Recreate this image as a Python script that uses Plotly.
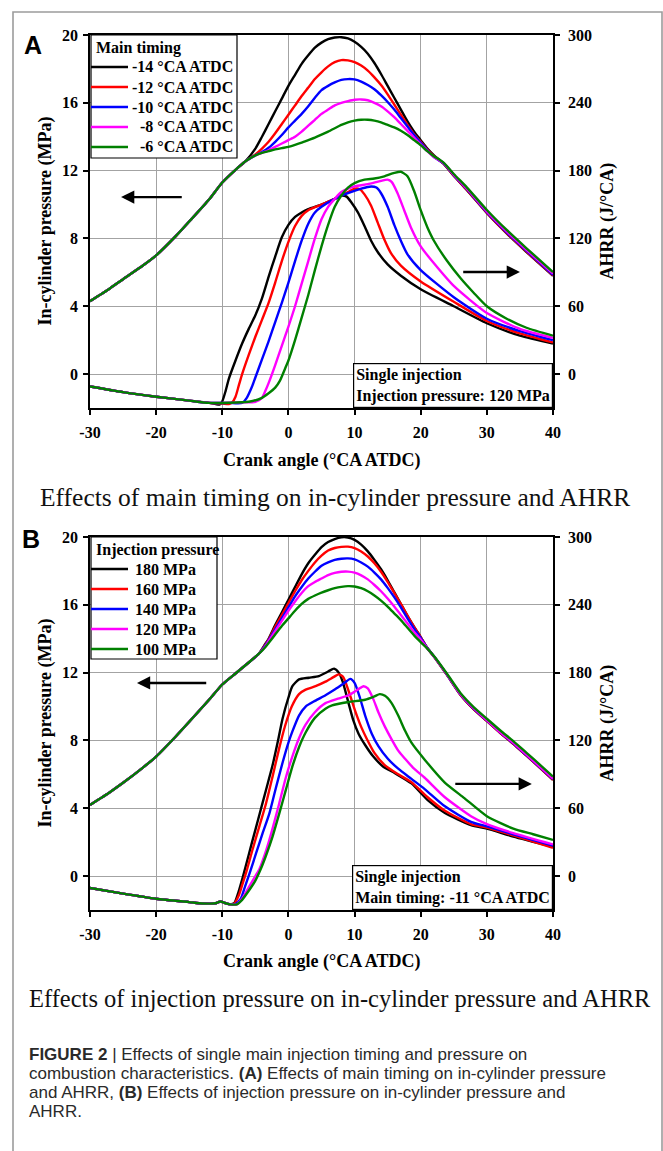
import plotly.graph_objects as go

# ---------------------------------------------------------------- figure size
W, H = 663, 1151
SERIF = "Liberation Serif, Times New Roman, serif"
SANS = "Liberation Sans, Arial, sans-serif"

# ---------------------------------------------------------------- axes / labels
crank_ticks = [-30, -20, -10, 0, 10, 20, 30, 40]
crank_tick_text = ["-30", "-20", "-10", "0", "10", "20", "30", "40"]
press_ticks = [0, 4, 8, 12, 16, 20]
ahrr_ticks = [0, 60, 120, 180, 240, 300]
press_range = [-2, 20]
ahrr_range = [-30, 300]
crank_range = [-30, 40]

line_colors = ["#000000", "#ff0000", "#0000ff", "#ff00ff", "#008000"]
timing_labels = ["-14 °CA ATDC", "-12 °CA ATDC", "-10 °CA ATDC", "-8 °CA ATDC", "-6 °CA ATDC"]
inj_labels = ["180 MPa", "160 MPa", "140 MPa", "120 MPa", "100 MPa"]

# ============================================================ (A) main timing
# in-cylinder pressure (MPa): shared compression, per-timing combustion, shared expansion
a_p_pre_x = [-30, -27, -25, -22, -20, -17, -15, -12, -10, -8, -6.5]
a_p_pre = [4.3, 5.05, 5.6, 6.4, 7.0, 8.15, 9.0, 10.3, 11.3, 12.05, 12.55]
a_p_mid_x = [-5, -4, -3, -2, -1, 0, 1, 2, 3, 4, 5, 6, 7, 8, 9, 10, 11, 12, 13, 14,
             15, 16, 17, 18, 19, 20, 21, 22]
a_p_m14 = [13.3, 14.0, 14.75, 15.5, 16.25, 17.0, 17.65, 18.3, 18.8, 19.25, 19.55, 19.75,
           19.85, 19.87, 19.8, 19.6, 19.3, 18.9, 18.35, 17.7, 17.0, 16.3, 15.6, 14.9,
           14.3, 13.8, 13.3, 12.9]
a_p_m12 = [12.95, 13.3, 13.7, 14.2, 14.75, 15.3, 15.85, 16.4, 16.9, 17.4, 17.8, 18.15,
           18.4, 18.52, 18.5, 18.4, 18.2, 17.9, 17.5, 17.05, 16.5, 15.9, 15.3, 14.7,
           14.15, 13.7, 13.25, 12.85]
a_p_m10 = [12.9, 13.1, 13.35, 13.7, 14.1, 14.55, 14.95, 15.35, 15.8, 16.3, 16.75, 17.0,
           17.2, 17.35, 17.4, 17.38, 17.25, 17.05, 16.8, 16.45, 16.05, 15.6, 15.1, 14.6,
           14.1, 13.65, 13.2, 12.8]
a_p_m8 = [12.9, 13.05, 13.2, 13.4, 13.6, 13.8, 14.0, 14.3, 14.65, 15.0, 15.35, 15.6,
          15.85, 16.0, 16.1, 16.18, 16.2, 16.15, 16.0, 15.8, 15.5, 15.15, 14.75, 14.35,
          13.95, 13.55, 13.15, 12.8]
a_p_m6 = [12.9, 13.05, 13.15, 13.25, 13.33, 13.4, 13.52, 13.65, 13.8, 13.95, 14.12, 14.3,
          14.5, 14.7, 14.85, 14.95, 15.0, 15.0, 14.95, 14.85, 14.7, 14.55, 14.35, 14.1,
          13.8, 13.5, 13.15, 12.85]
a_p_tail_x = [23.5, 25, 27, 30, 33, 36, 40]
a_p_tail_m14 = [12.4, 11.7, 10.85, 9.5, 8.3, 7.2, 5.8]
a_p_tail_m12 = [12.4, 11.7, 10.86, 9.51, 8.31, 7.22, 5.82]
a_p_tail_m10 = [12.42, 11.73, 10.9, 9.55, 8.36, 7.27, 5.86]
a_p_tail_m8 = [12.44, 11.76, 10.94, 9.6, 8.42, 7.33, 5.92]
a_p_tail_m6 = [12.46, 11.8, 11.0, 9.68, 8.5, 7.42, 6.02]

# apparent heat release rate (J/°CA)
a_h_pre_x = [-30, -25, -20, -15, -12]
a_h_pre = [-11, -16, -20, -23.5, -25.5]
a_h_m14_x = [-11, -10.4, -10, -9.5, -9, -8, -7, -6, -5, -4, -3, -2, -1, 0, 1, 2, 3, 5, 7,
             8, 8.8, 9.5, 10.5, 11.5, 12.5, 13.5, 15, 17, 20, 25, 30, 35, 40]
a_h_m14 = [-26.5, -27, -24, -15, -4, 12, 27, 40, 52, 67, 86, 104, 121, 132, 139, 143, 146,
           150, 155, 158, 157, 152, 143, 131, 118, 108, 97, 87, 75, 60, 45, 34, 27]
a_h_m12_x = [-10, -9, -8.5, -8, -7.5, -7, -6, -5, -4, -3, -2, -1, 0, 1, 2, 3, 5, 7, 9, 10,
             10.8, 11.5, 12.5, 13.5, 14.5, 15.5, 17, 20, 25, 30, 35, 40]
a_h_m12 = [-26, -26.5, -25, -20, -10, 0, 17, 33, 48, 63, 81, 100, 117, 131, 140, 145, 150,
           155, 161, 164, 163.5, 159, 149, 134, 119, 107, 96, 82, 64, 47, 36, 28]
a_h_m10_x = [-9, -7, -6.3, -5.5, -5, -4, -3, -2, -1, 0, 1, 2, 3, 4, 5, 7, 9, 11, 12.5,
             13.3, 14, 15, 16, 17, 18, 20, 25, 30, 35, 40]
a_h_m10 = [-25.5, -25.5, -21, -11, -3, 13, 29, 46, 63, 81, 100, 118, 133, 143, 148, 155,
           160, 164, 166, 165, 160, 148, 132, 118, 106, 92, 68, 49, 38, 30]
a_h_m8_x = [-7, -5, -4, -3.5, -3, -2, -1, 0, 1, 2, 3, 4, 5, 6, 7, 8, 10, 12, 14, 15, 15.6,
            16.5, 17.5, 18.5, 20, 22, 25, 30, 35, 40]
a_h_m8 = [-25, -24.5, -21, -15, -8, 8, 25, 42, 60, 80, 100, 120, 137, 148, 155, 161, 166,
          168, 171, 172, 170, 160, 145, 130, 113, 98, 78, 54, 40, 32]
a_h_m6_x = [-6, -4, -3, -2, -1.3, -0.5, 0, 1, 2, 3, 4, 5, 6, 7, 8, 9, 10, 11.5, 13, 14.5,
            16, 17, 18, 19, 20, 21, 22, 24, 26, 28, 30, 33, 36, 40]
a_h_m6 = [-24.5, -21, -17, -12, -6, 5, 12, 30, 50, 70, 92, 113, 132, 148, 158, 165, 169,
          172, 173, 175, 178, 179, 175, 162, 145, 130, 118, 100, 85, 72, 60, 49, 41, 34]

# ============================================================ (B) injection pressure
b_p_pre_x = [-30, -27, -25, -22, -20, -17, -15, -12, -10, -8, -6, -4.5]
b_p_pre = [4.2, 4.95, 5.5, 6.4, 7.05, 8.25, 9.1, 10.4, 11.3, 11.95, 12.6, 13.1]
b_p_mid_x = [-3.5, -3, -2, -1, 0, 1, 2, 3, 4, 5, 6, 7, 8, 9, 10, 11, 12, 13, 14, 15, 16,
             17, 18, 19, 20]
b_p_180 = [13.7, 14.0, 14.8, 15.55, 16.3, 17.05, 17.8, 18.45, 18.95, 19.4, 19.7, 19.88,
           19.98, 19.97, 19.83, 19.55, 19.15, 18.65, 18.1, 17.45, 16.75, 16.05, 15.35,
           14.7, 14.1]
b_p_160 = [13.65, 13.95, 14.7, 15.4, 16.1, 16.8, 17.45, 18.0, 18.5, 18.9, 19.2, 19.35,
           19.42, 19.43, 19.35, 19.15, 18.85, 18.45, 17.95, 17.35, 16.7, 16.05, 15.35,
           14.7, 14.1]
b_p_140 = [13.6, 13.9, 14.55, 15.2, 15.85, 16.5, 17.05, 17.55, 17.95, 18.3, 18.5, 18.65,
           18.72, 18.74, 18.68, 18.5, 18.25, 17.9, 17.5, 17.0, 16.45, 15.85, 15.2, 14.6,
           14.05]
b_p_120 = [13.55, 13.85, 14.45, 15.05, 15.65, 16.2, 16.7, 17.1, 17.35, 17.55, 17.75, 17.88,
           17.95, 17.96, 17.9, 17.74, 17.5, 17.17, 16.8, 16.37, 15.9, 15.4, 14.9, 14.4,
           13.95]
b_p_100 = [13.5, 13.75, 14.25, 14.75, 15.2, 15.65, 16.05, 16.35, 16.55, 16.72, 16.86, 16.98,
           17.06, 17.1, 17.08, 16.98, 16.8, 16.55, 16.25, 15.9, 15.5, 15.1, 14.65, 14.2,
           13.8]
b_p_tail_x = [21, 22, 24, 26, 28, 30, 32, 34, 36, 38, 40]
b_p_tail_180 = [13.45, 12.95, 11.85, 10.7, 9.85, 9.15, 8.45, 7.8, 7.1, 6.4, 5.68]
b_p_tail_160 = [13.45, 12.95, 11.85, 10.7, 9.85, 9.15, 8.45, 7.8, 7.1, 6.4, 5.68]
b_p_tail_140 = [13.45, 12.96, 11.87, 10.72, 9.87, 9.18, 8.48, 7.83, 7.13, 6.43, 5.72]
b_p_tail_120 = [13.43, 12.96, 11.88, 10.74, 9.9, 9.2, 8.5, 7.86, 7.16, 6.46, 5.75]
b_p_tail_100 = [13.42, 12.98, 11.92, 10.8, 9.97, 9.28, 8.6, 7.96, 7.27, 6.58, 5.87]

b_h_pre_x = [-30, -25, -20, -15, -13, -11, -10.3, -9.5, -8.8]
b_h_pre = [-10.5, -15.5, -20, -23, -24.2, -24, -22.5, -24, -25]
b_h_180_x = [-8.2, -7.6, -7, -6.4, -5.5, -4.4, -3.4, -2.4, -1.5, -0.9, 0, 0.6, 1.6, 3.1,
             4.6, 6, 6.9, 7.6, 8.2, 9, 9.8, 10.6, 11.6, 12.8, 14.3, 16.1, 18.6, 21.1,
             23.6, 27.6, 30, 34, 40]
b_h_180 = [-24, -15, -3, 10, 30, 54, 76, 98, 122, 139, 158, 168, 174, 175.5, 177, 181,
           183.5, 180, 172, 155, 138, 126, 116, 106, 97, 91, 82, 67, 56, 45, 42, 35, 26]
b_h_160_x = [-8.2, -7.5, -7, -6.4, -5.4, -4.4, -3.4, -2.4, -1.4, -0.5, 0.5, 1.6, 2.6, 4.1,
             5.6, 6.8, 7.6, 8.3, 9.2, 10.1, 11, 11.8, 13, 14.6, 16.6, 18.6, 21, 23.6,
             27.6, 30, 34, 40]
b_h_160 = [-24.5, -17, -8, 3, 24, 44, 64, 88, 113, 133, 150, 161, 165, 168, 172, 176,
           178.5, 176, 162, 146, 132, 122, 109, 98, 90, 83, 70, 58, 46, 43, 36, 25]
b_h_140_x = [-8, -7.2, -6.6, -5.9, -4.9, -3.9, -2.9, -1.9, -0.9, 0, 0.6, 1.6, 2.6, 4, 5.6,
             7, 8.5, 9.35, 10, 10.8, 11.6, 12.6, 13.6, 15, 16.6, 18.6, 20.6, 23.6, 27.6,
             30, 34, 40]
b_h_140 = [-24.8, -20, -10, 2, 20, 38, 55, 78, 100, 118, 128, 142, 150, 155, 160, 165,
           171, 174.5, 171, 158, 142, 126, 115, 104, 95, 86, 77, 62, 48, 44, 37, 27]
b_h_120_x = [-7.8, -7, -6, -5.2, -4.4, -3.4, -2.4, -1.4, -0.4, 0.6, 1.6, 2.6, 4, 5.6, 7.5,
             9.1, 10.5, 11.35, 12, 12.8, 13.6, 14.6, 15.6, 16.6, 17.6, 19, 20.6, 23.6,
             27.6, 30, 34, 40]
b_h_120 = [-25, -20, -10, -2, 6, 22, 42, 64, 87, 106, 122, 134, 145, 153, 157, 160, 165,
           168, 166, 157, 145, 132, 121, 111, 104, 95, 87, 70, 53, 46, 38, 28]
b_h_100_x = [-7.8, -7, -6, -5, -4.2, -3.4, -2.4, -1.4, -0.4, 0.6, 1.6, 2.6, 4, 5.6, 6.6,
             9.1, 11.6, 13, 13.8, 14.6, 15.6, 16.6, 17.6, 18.6, 20.6, 23.6, 26.6, 30, 34,
             37, 40]
b_h_100 = [-25, -21, -13, -4, 6, 18, 35, 55, 76, 97, 114, 127, 140, 148, 151, 154, 156,
           159, 161, 159.5, 153, 142, 129, 118, 103, 83, 69, 53, 42, 37, 32]

# ---------------------------------------------------------------- assemble series
panel_a_press = [
    (a_p_pre_x + a_p_mid_x + a_p_tail_x, a_p_pre + a_p_m14 + a_p_tail_m14),
    (a_p_pre_x + a_p_mid_x + a_p_tail_x, a_p_pre + a_p_m12 + a_p_tail_m12),
    (a_p_pre_x + a_p_mid_x + a_p_tail_x, a_p_pre + a_p_m10 + a_p_tail_m10),
    (a_p_pre_x + a_p_mid_x + a_p_tail_x, a_p_pre + a_p_m8 + a_p_tail_m8),
    (a_p_pre_x + a_p_mid_x + a_p_tail_x, a_p_pre + a_p_m6 + a_p_tail_m6),
]
panel_a_heat = [
    (a_h_pre_x + a_h_m14_x, a_h_pre + a_h_m14),
    (a_h_pre_x + a_h_m12_x, a_h_pre + a_h_m12),
    (a_h_pre_x + a_h_m10_x, a_h_pre + a_h_m10),
    (a_h_pre_x + a_h_m8_x, a_h_pre + a_h_m8),
    (a_h_pre_x + a_h_m6_x, a_h_pre + a_h_m6),
]
panel_b_press = [
    (b_p_pre_x + b_p_mid_x + b_p_tail_x, b_p_pre + b_p_180 + b_p_tail_180),
    (b_p_pre_x + b_p_mid_x + b_p_tail_x, b_p_pre + b_p_160 + b_p_tail_160),
    (b_p_pre_x + b_p_mid_x + b_p_tail_x, b_p_pre + b_p_140 + b_p_tail_140),
    (b_p_pre_x + b_p_mid_x + b_p_tail_x, b_p_pre + b_p_120 + b_p_tail_120),
    (b_p_pre_x + b_p_mid_x + b_p_tail_x, b_p_pre + b_p_100 + b_p_tail_100),
]
panel_b_heat = [
    (b_h_pre_x + b_h_180_x, b_h_pre + b_h_180),
    (b_h_pre_x + b_h_160_x, b_h_pre + b_h_160),
    (b_h_pre_x + b_h_140_x, b_h_pre + b_h_140),
    (b_h_pre_x + b_h_120_x, b_h_pre + b_h_120),
    (b_h_pre_x + b_h_100_x, b_h_pre + b_h_100),
]

fig = go.Figure()


def add_curves(series, names, xa, ya):
    for (xs, ys), name, col in zip(series, names, line_colors):
        fig.add_trace(go.Scatter(
            x=xs, y=ys, mode="lines", name=name, xaxis=xa, yaxis=ya,
            line=dict(color=col, width=2.4, shape="spline", smoothing=0.6),
            showlegend=False, hoverinfo="skip"))


add_curves(panel_a_press, timing_labels, "x", "y")
add_curves(panel_a_heat, timing_labels, "x", "y2")
add_curves(panel_b_press, inj_labels, "x2", "y3")
add_curves(panel_b_heat, inj_labels, "x2", "y4")


# ---------------------------------------------------------------- pixel helpers
def fx(px):
    return px / W


def fy(py):
    return 1 - py / H


PLOT_L, PLOT_R = 90, 553
A_TOP, A_BOT = 35, 408
B_TOP, B_BOT = 537, 910

tick_font = dict(family=SERIF, size=16, color="black", weight="bold")
axis_common = dict(showline=True, linecolor="black", linewidth=1.6, ticks="outside",
                   ticklen=5, tickwidth=1.5, tickcolor="black", tickfont=tick_font,
                   zeroline=False, automargin=False)
grid = dict(showgrid=True, gridcolor="#a3a3a3", gridwidth=1.2)
crank_axis = dict(range=crank_range, tickvals=crank_ticks, ticktext=crank_tick_text,
                  mirror=True, ticklabelstandoff=4)

fig.update_layout(
    template="none",
    width=W, height=H, autosize=False,
    margin=dict(l=0, r=0, t=0, b=0, pad=0, autoexpand=False),
    paper_bgcolor="white", plot_bgcolor="rgba(0,0,0,0)",
    showlegend=False,
    xaxis=dict(domain=[fx(PLOT_L), fx(PLOT_R)], anchor="y", **crank_axis, **grid,
               **axis_common),
    yaxis=dict(domain=[fy(A_BOT), fy(A_TOP)], anchor="x", range=press_range,
               tickvals=press_ticks, ticklabelstandoff=2, **grid, **axis_common),
    yaxis2=dict(overlaying="y", side="right", anchor="x", range=ahrr_range,
                tickvals=ahrr_ticks, showgrid=False, ticklabelstandoff=5, **axis_common),
    xaxis2=dict(domain=[fx(PLOT_L), fx(PLOT_R)], anchor="y3", **crank_axis, **grid,
                **axis_common),
    yaxis3=dict(domain=[fy(B_BOT), fy(B_TOP)], anchor="x2", range=press_range,
                tickvals=press_ticks, ticklabelstandoff=2, **grid, **axis_common),
    yaxis4=dict(overlaying="y3", side="right", anchor="x2", range=ahrr_range,
                tickvals=ahrr_ticks, showgrid=False, ticklabelstandoff=5, **axis_common),
)

ann = []
shapes = []

# outer frame of the figure
shapes.append(dict(type="rect", xref="paper", yref="paper", x0=fx(13), x1=fx(662),
                   y0=fy(1175), y1=fy(12), line=dict(color="#9c9c9c", width=1.6),
                   fillcolor="rgba(0,0,0,0)"))


def text(px, py, s, size=16, family=SERIF, xanchor="center", bold=True, angle=0,
         color="black"):
    ann.append(dict(xref="paper", yref="paper", x=fx(px), y=fy(py), text=s,
                    showarrow=False, xanchor=xanchor, yanchor="middle", textangle=angle,
                    font=dict(family=family, size=size, color=color,
                              weight="bold" if bold else "normal")))


# panel letters
text(33, 45, "A", size=25, family=SANS)
text(30.5, 539, "B", size=25, family=SANS)

# axis titles
for top, bot in ((A_TOP, A_BOT), (B_TOP, B_BOT)):
    mid = (top + bot) / 2
    text(45, mid, "In-cylinder pressure (MPa)", size=18, angle=-90)
    text(607, mid, "AHRR (J/°CA)", size=18, angle=-90)
text(321.5, 460, "Crank angle (°CA ATDC)", size=18)
text(321.5, 961, "Crank angle (°CA ATDC)", size=18)

# panel subtitles
text(335, 497, "Effects of main timing on in-cylinder pressure and AHRR", size=25.5,
     bold=False, color="#111111")
text(340, 998, "Effects of injection pressure on in-cylinder pressure and AHRR", size=24.5,
     bold=False, color="#111111")

# figure caption
caption_lines = [
    "<b>FIGURE 2</b> | Effects of single main injection timing and pressure on",
    "combustion characteristics. <b>(A)</b> Effects of main timing on in-cylinder pressure",
    "and AHRR, <b>(B)</b> Effects of injection pressure on in-cylinder pressure and",
    "AHRR.",
]
for i, line in enumerate(caption_lines):
    text(27, 1054 + i * 19, line, size=17, family=SANS, xanchor="left", bold=False,
         color="#2a2a2a")


# legends drawn as boxed keys in the upper-left corner of each panel
def key(box, title, labels, right_align):
    x0, y0, x1, y1 = box
    shapes.append(dict(type="rect", xref="paper", yref="paper", x0=fx(x0), x1=fx(x1),
                       y0=fy(y1), y1=fy(y0), line=dict(color="black", width=1.2),
                       fillcolor="white", layer="above"))
    text(x0 + 3, y0 + 13, title, xanchor="left")
    for i, (lab, col) in enumerate(zip(labels, line_colors)):
        yy = y0 + 32 + 20 * i
        shapes.append(dict(type="line", xref="paper", yref="paper", x0=fx(x0), x1=fx(x0 + 37),
                           y0=fy(yy), y1=fy(yy), line=dict(color=col, width=2.6),
                           layer="above"))
        if right_align:
            text(x1 - 2, yy, lab, xanchor="right")
        else:
            text(x0 + 42, yy, lab, xanchor="left")


key((91, 35, 237, 158), "Main timing", timing_labels, True)
key((91, 537, 217, 659), "Injection pressure", inj_labels, False)

# operating-condition boxes in the lower-right corner
for xa, ya, s in (("x", "y", "Single injection<br>Injection pressure: 120 MPa"),
                  ("x2", "y3", "Single injection<br>Main timing: -11 °CA ATDC")):
    ann.append(dict(xref=xa + " domain", yref=ya + " domain", x=1, y=0, text=s,
                    showarrow=False, xanchor="right", yanchor="bottom", align="left",
                    bordercolor="black", borderwidth=1.2, borderpad=2, bgcolor="white",
                    font=dict(family=SERIF, size=16, color="black", weight="bold")))

# arrows pointing to the axis each curve family belongs to
arrows = [
    ("x", "y", -25.3, 10.44, -15.9, 10.44),
    ("x", "y2", 35.0, 90.3, 26.2, 90.3),
    ("x2", "y3", -22.9, 11.39, -12.2, 11.39),
    ("x2", "y4", 36.8, 81.5, 25.0, 81.5),
]
for xa, ya, hx, hy, tx, ty in arrows:
    ann.append(dict(xref=xa, yref=ya, x=hx, y=hy, ax=tx, ay=ty, axref=xa, ayref=ya,
                    showarrow=True, arrowhead=2, arrowsize=1.15, arrowwidth=2.3,
                    arrowcolor="black", text=""))

fig.update_layout(annotations=ann, shapes=shapes)
fig.write_html("out.html")
